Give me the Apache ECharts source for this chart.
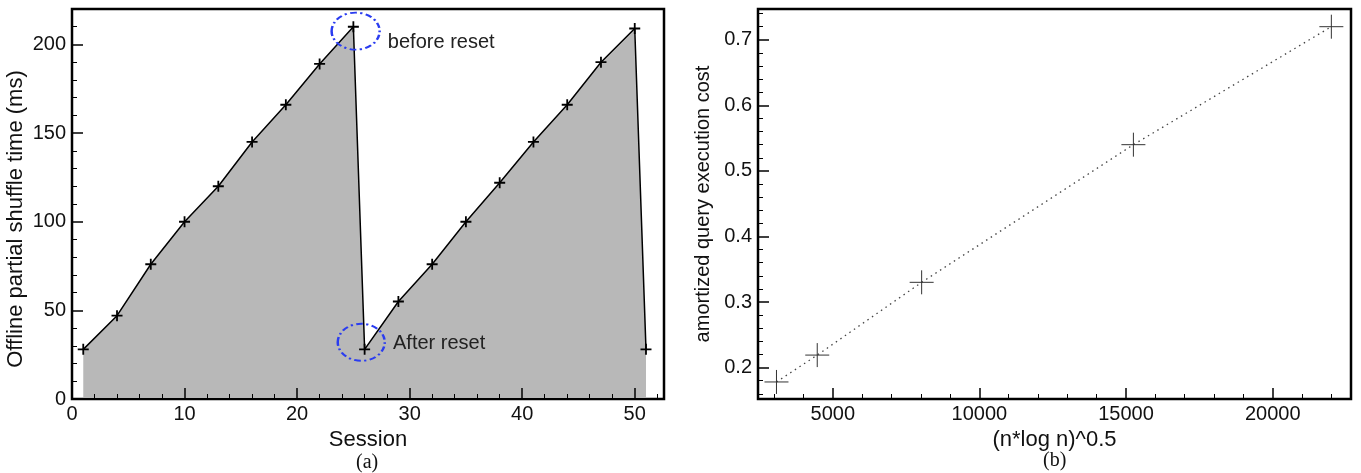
<!DOCTYPE html>
<html>
<head>
<meta charset="utf-8">
<script src="https://cdn.jsdelivr.net/npm/echarts@6/dist/echarts.min.js"></script>
<style>
html,body{margin:0;padding:0;background:#fff;}
#chart{width:1361px;height:473px;}
</style>
</head>
<body>
<div id="chart"></div>
<script>
// ---- data (a) ----
const sessions = [1, 4, 7, 10, 13, 16, 19, 22, 25, 26, 29, 32, 35, 38, 41, 44, 47, 50, 51];
const shuffleMs = [28, 47, 76, 100, 120, 145, 166, 189, 210, 28, 55, 76, 100, 122, 145, 166, 190, 209, 28];
const resetNoteCoords = [[25.2, 207.5], [25.7, 32]];
const resetNoteTexts = ['before reset', 'After reset'];
// ---- data (b) ----
const nlogn = [3080, 4470, 8030, 15250, 22000];
const queryCost = [0.178, 0.219, 0.330, 0.540, 0.720];
// ---- ticks ----
const aXMajor = [0, 10, 20, 30, 40, 50];
const aXMinor = [2, 4, 6, 8, 12, 14, 16, 18, 22, 24, 26, 28, 32, 34, 36, 38, 42, 44, 46, 48, 52];
const aYMajor = [0, 50, 100, 150, 200];
const aYMinor = [10, 20, 30, 40, 60, 70, 80, 90, 110, 120, 130, 140, 160, 170, 180, 190, 210];
const bXMajor = [5000, 10000, 15000, 20000];
const bXMinor = [3000, 4000, 6000, 7000, 8000, 9000, 11000, 12000, 13000, 14000, 16000, 17000, 18000, 19000, 21000, 22000];
const bYMajor = [0.2, 0.3, 0.4, 0.5, 0.6, 0.7];
const bYMinor = [0.16, 0.18, 0.22, 0.24, 0.26, 0.28, 0.32, 0.34, 0.36, 0.38, 0.42, 0.44, 0.46, 0.48, 0.52, 0.54, 0.56, 0.58, 0.62, 0.64, 0.66, 0.68, 0.72, 0.74];

const FONT = "'Liberation Sans', Arial, Helvetica, sans-serif";
const SERIF = "'Liberation Serif', 'Times New Roman', serif";
const PLUS = 'path://M0,50 L100,50 M50,0 L50,100';
const ELLIPSE = 'path://M0,50 A50,50 0 1,1 100,50 A50,50 0 1,1 0,50 Z';

function majorAxis(o) {
  return Object.assign({
    type: 'value',
    z: 5,
    splitLine: { show: false },
    axisLine: { show: true, lineStyle: { color: '#000', width: 2 } },
    nameLocation: 'middle'
  }, o);
}
function minorAxis(o) {
  return Object.assign({
    type: 'value',
    z: 5,
    splitLine: { show: false },
    axisLine: { show: false },
    axisLabel: { show: false }
  }, o);
}
function majorTick(vals) {
  return { show: true, inside: true, length: 11, customValues: vals, lineStyle: { color: '#000', width: 1.5 } };
}
function minorTick(vals) {
  return { show: true, inside: true, length: 5, customValues: vals, lineStyle: { color: '#000', width: 1 } };
}
function tickLabel(vals, margin, fmt) {
  return { color: '#111', fontSize: 20, fontFamily: FONT, margin: margin, customValues: vals,
    formatter: fmt || function (v) { return String(v); } };
}
function nameStyle(size, pad) {
  const s = { color: '#111', fontSize: size, fontFamily: FONT };
  if (pad) s.padding = pad;
  return s;
}

const chart = echarts.init(document.getElementById('chart'), null, { renderer: 'canvas' });
chart.setOption({
  animation: false,
  backgroundColor: '#fff',
  grid: [
    { left: 72, top: 9, width: 592, height: 390, show: true, borderColor: '#000', borderWidth: 2.5, backgroundColor: 'transparent' },
    { left: 758, top: 9, width: 593, height: 390, show: true, borderColor: '#000', borderWidth: 2.5, backgroundColor: 'transparent' }
  ],
  xAxis: [
    majorAxis({ gridIndex: 0, min: 0, max: 52.6, position: 'bottom',
      axisTick: majorTick(aXMajor), axisLabel: tickLabel(aXMajor, 5),
      name: 'Session', nameGap: 27, nameTextStyle: nameStyle(22) }),
    minorAxis({ gridIndex: 0, min: 0, max: 52.6, position: 'bottom', axisTick: minorTick(aXMinor) }),
    majorAxis({ gridIndex: 1, min: 2450, max: 22670, position: 'bottom',
      axisTick: majorTick(bXMajor), axisLabel: tickLabel(bXMajor, 5),
      name: '(n*log n)^0.5', nameGap: 29, nameTextStyle: nameStyle(22) }),
    minorAxis({ gridIndex: 1, min: 2450, max: 22670, position: 'bottom', axisTick: minorTick(bXMinor) })
  ],
  yAxis: [
    majorAxis({ gridIndex: 0, min: 0, max: 220, position: 'left',
      axisTick: majorTick(aYMajor), axisLabel: tickLabel(aYMajor, 6),
      name: 'Offline partial shuffle time (ms)', nameGap: 45, nameTextStyle: nameStyle(22, [0, 30, 0, 0]) }),
    minorAxis({ gridIndex: 0, min: 0, max: 220, position: 'left', axisTick: minorTick(aYMinor) }),
    majorAxis({ gridIndex: 1, min: 0.152, max: 0.747, position: 'left',
      axisTick: majorTick(bYMajor), axisLabel: tickLabel(bYMajor, 6, function (v) { return v.toFixed(1); }),
      name: 'amortized query execution cost', nameGap: 45, nameTextStyle: nameStyle(20) }),
    minorAxis({ gridIndex: 1, min: 0.152, max: 0.747, position: 'left', axisTick: minorTick(bYMinor) })
  ],
  series: [
    {
      type: 'line',
      xAxisIndex: 0, yAxisIndex: 0,
      data: sessions.map(function (s, i) { return [s, shuffleMs[i]]; }),
      symbol: PLUS, symbolSize: 11, showAllSymbol: true,
      lineStyle: { color: '#000', width: 1.5 },
      itemStyle: { color: 'transparent', borderColor: '#000', borderWidth: 1.8 },
      areaStyle: { color: '#b8b8b8', opacity: 1 },
      z: 2,
      markPoint: {
        symbol: ELLIPSE,
        itemStyle: { color: 'transparent', borderColor: '#2a3cf0', borderWidth: 2.2, borderType: [6, 3, 2, 3] },
        label: { show: true, position: 'right', distance: 7, color: '#222', fontSize: 20, fontFamily: FONT,
          formatter: function (p) { return p.name; } },
        data: [
          { name: resetNoteTexts[0], coord: resetNoteCoords[0], symbolSize: [48, 37], label: { offset: [0, 11] } },
          { name: resetNoteTexts[1], coord: resetNoteCoords[1], symbolSize: [47, 37], label: { offset: [0, 1] } }
        ]
      }
    },
    {
      type: 'line',
      xAxisIndex: 2, yAxisIndex: 2,
      data: nlogn.map(function (x, i) { return [x, queryCost[i]]; }),
      symbol: PLUS, symbolSize: 24, showAllSymbol: true,
      lineStyle: { color: '#444', width: 1.3, type: [1.5, 4] },
      itemStyle: { color: 'transparent', borderColor: '#333', borderWidth: 1 },
      z: 2
    }
  ],
  graphic: [
    { type: 'text', left: 356, top: 453, style: { text: '(a)', fontSize: 20, fontFamily: SERIF, fill: '#111' } },
    { type: 'text', left: 1043, top: 451, style: { text: '(b)', fontSize: 20, fontFamily: SERIF, fill: '#111' } }
  ]
});
</script>
</body>
</html>
